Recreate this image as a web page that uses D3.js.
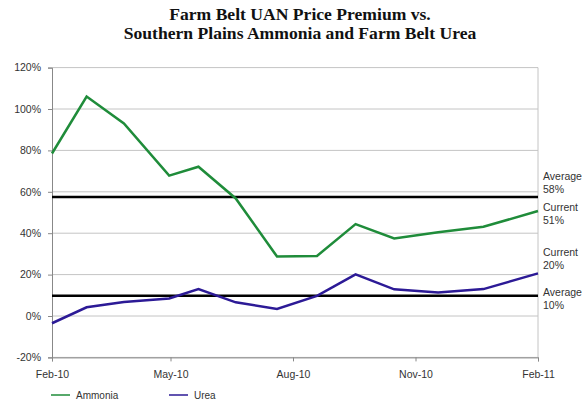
<!DOCTYPE html>
<html>
<head>
<meta charset="utf-8">
<script src="https://cdn.jsdelivr.net/npm/d3@7"></script>
<style>
  body { margin: 0; background: #fff; }
  text { font-family: "Liberation Sans", Arial, sans-serif; fill: #333; }
  .title { font-family: "Liberation Serif", "Times New Roman", serif; font-weight: bold; font-size: 17.6px; fill: #111; }
</style>
</head>
<body>
<svg id="chart"></svg>
<script>
// data
var dates = ["2010-02-01", "2010-02-27", "2010-03-27", "2010-04-30", "2010-05-22", "2010-06-19",
             "2010-07-20", "2010-08-19", "2010-09-17", "2010-10-16", "2010-11-18", "2010-12-22", "2011-02-01"];
var ammonia = [78.5, 106, 93, 67.8, 72.1, 56.8, 28.7, 29.0, 44.4, 37.5, 40.5, 43.1, 50.7];
var urea = [-3.5, 4.2, 6.8, 8.5, 13.0, 6.6, 3.4, 9.7, 20.1, 12.9, 11.4, 13.0, 20.6];
var averages = [57.5, 9.8];
var yTicks = [-20, 0, 20, 40, 60, 80, 100, 120];
var xTicks = ["2010-02-01", "2010-05-01", "2010-08-01", "2010-11-01", "2011-02-01"];
var notes = [
    { name: "Average", text: "58%", value: 57.5, side: "above" },
    { name: "Current", text: "51%", value: 50.7, side: "below" },
    { name: "Current", text: "20%", value: 20.6, side: "above" },
    { name: "Average", text: "10%", value: 9.8, side: "below" }
];
var titleLines = ["Farm Belt UAN Price Premium vs.", "Southern Plains Ammonia and Farm Belt Urea"];

var W = 586, H = 403;
var margin = { top: 67.6, right: 48, bottom: 45.6, left: 52 },
    width = W - margin.left - margin.right,
    height = H - margin.top - margin.bottom;

var parse = d3.timeParse("%Y-%m-%d");
var green = "#1f8c3a", blue = "#2c1a96";

var svg = d3.select("#chart").attr("width", W).attr("height", H);

// title
svg.selectAll(".title")
    .data(titleLines)
    .join("text")
    .attr("class", "title")
    .attr("x", 300)
    .attr("y", (d, i) => 20 + i * 19)
    .attr("text-anchor", "middle")
    .text((d) => d);

var g = svg.append("g")
    .attr("transform", "translate(" + margin.left + "," + margin.top + ")");

var x = d3.scaleTime()
    .domain([parse(dates[0]), parse(dates[dates.length - 1])])
    .range([0, width]);
var y = d3.scaleLinear().domain([-20, 120]).range([height, 0]);

// grid lines
g.append("g")
    .selectAll("line")
    .data(yTicks)
    .join("line")
    .attr("x1", 0)
    .attr("x2", width)
    .attr("y1", (d) => y(d))
    .attr("y2", (d) => y(d))
    .attr("stroke", "#c4c4c4")
    .attr("stroke-width", 1);

// right border of plot
g.append("line")
    .attr("x1", width).attr("x2", width)
    .attr("y1", 0).attr("y2", height)
    .attr("stroke", "#c4c4c4");

// y axis
var yAxis = g.append("g")
    .call(d3.axisLeft(y).tickValues(yTicks).tickSize(4).tickPadding(7).tickFormat((d) => d + "%"));
yAxis.select(".domain").attr("stroke", "#888");
yAxis.selectAll(".tick line").attr("stroke", "#888");
yAxis.selectAll("text").style("font-size", "10.5px").attr("fill", "#333");

// x axis
var xAxis = g.append("g")
    .attr("transform", "translate(0," + height + ")")
    .call(d3.axisBottom(x).tickValues(xTicks.map(parse)).tickSize(4).tickPadding(9).tickFormat(d3.timeFormat("%b-%y")));
xAxis.select(".domain").attr("stroke", "#888");
xAxis.selectAll(".tick line").attr("stroke", "#888");
xAxis.selectAll("text").style("font-size", "10.5px").attr("fill", "#333");

// average lines
g.selectAll(".avg")
    .data(averages)
    .join("line")
    .attr("class", "avg")
    .attr("x1", 0)
    .attr("x2", width)
    .attr("y1", (d) => y(d))
    .attr("y2", (d) => y(d))
    .attr("stroke", "#000")
    .attr("stroke-width", 2.5);

var line = d3.line()
    .x((d, i) => x(parse(dates[i])))
    .y((d) => y(d));

g.append("path")
    .datum(ammonia)
    .attr("d", line)
    .attr("fill", "none")
    .attr("stroke", green)
    .attr("stroke-width", 2.5)
    .attr("stroke-linejoin", "miter");

g.append("path")
    .datum(urea)
    .attr("d", line)
    .attr("fill", "none")
    .attr("stroke", blue)
    .attr("stroke-width", 2.5);

// right side notes
var note = g.selectAll(".note")
    .data(notes)
    .join("text")
    .attr("class", "note")
    .attr("x", width + 5)
    .attr("y", (d) => y(d.value) + (d.side === "above" ? -17 : 0))
    .style("font-size", "10.5px");
note.append("tspan").attr("x", width + 5).text((d) => d.name);
note.append("tspan").attr("x", width + 5).attr("dy", 13).text((d) => d.text);

// legend
var legend = svg.append("g").attr("transform", "translate(51,395)");
var items = [{ name: "Ammonia", color: green }, { name: "Urea", color: blue }];
var li = legend.selectAll("g")
    .data(items)
    .join("g")
    .attr("transform", (d, i) => "translate(" + i * 118 + ",0)");
li.append("line")
    .attr("x1", 0).attr("x2", 19)
    .attr("stroke", (d) => d.color)
    .attr("stroke-opacity", 0.75)
    .attr("stroke-width", 2);
li.append("text")
    .attr("x", 25)
    .attr("y", 3.5)
    .style("font-size", "10px")
    .text((d) => d.name);
</script>
</body>
</html>
